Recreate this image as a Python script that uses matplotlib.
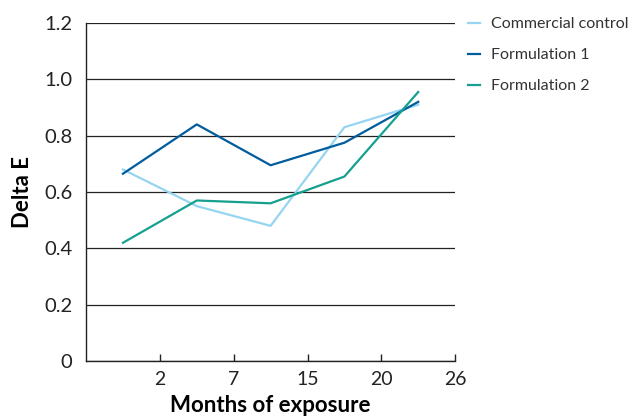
import numpy as np
import matplotlib
matplotlib.use("Agg")
import matplotlib.pyplot as plt

plt.rcParams["font.family"] = ["Lato", "DejaVu Sans"]

months = ["2", "7", "15", "20", "26"]
commercial = [0.68, 0.55, 0.48, 0.83, 0.91]
formulation1 = [0.665, 0.84, 0.695, 0.775, 0.92]
formulation2 = [0.42, 0.57, 0.56, 0.655, 0.955]

fig = plt.figure(figsize=(6.33, 4.17), dpi=100)
ax = fig.add_axes([0.136, 0.134, 0.583, 0.811])

x = np.arange(len(months)) + 0.5
ax.plot(x, commercial, color="#95d5f1", lw=1.6, label="Commercial control")
ax.plot(x, formulation1, color="#005c9c", lw=1.6, label="Formulation 1")
ax.plot(x, formulation2, color="#15a08f", lw=1.6, label="Formulation 2")

ax.set_xlim(0, len(months))
ax.set_ylim(0, 1.2)
yt = np.arange(0, 1.21, 0.2)
ax.set_yticks(yt)
ax.set_yticklabels(["0"] + [f"{v:.1f}" for v in yt[1:]])
ax.yaxis.grid(True, color="#222222", lw=0.9)
ax.set_axisbelow(True)
ax.tick_params(axis="y", length=0, labelsize=14.5, pad=10, colors="#222222")

ax.set_xticks(np.arange(1, len(months) + 1))
ax.set_xticklabels(months)
ax.tick_params(axis="x", direction="in", length=5, width=1, labelsize=14,
               pad=7, colors="#222222")

for s in ["top", "right"]:
    ax.spines[s].set_visible(False)
for s in ["left", "bottom"]:
    ax.spines[s].set_color("#222222")
    ax.spines[s].set_linewidth(1)

ax.set_xlabel("Months of exposure", fontsize=16, fontweight="bold", labelpad=5)
ax.set_ylabel("Delta E", fontsize=16, fontweight="bold", labelpad=8)

ax.legend(loc="upper left", bbox_to_anchor=(0.997, 1.06), frameon=False,
          fontsize=11.5, handlelength=0.7, handletextpad=0.7, labelspacing=1.05,
          labelcolor="#333333")

plt.savefig("out.png", dpi=100)
